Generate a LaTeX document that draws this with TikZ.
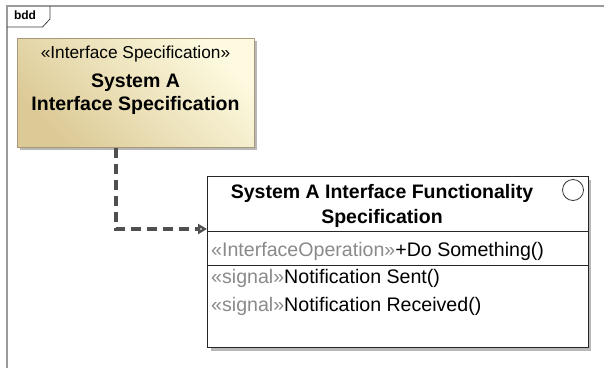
\documentclass[tikz,border=0pt]{standalone}
\usepackage{fontspec}
\setmainfont{Liberation Sans}
\usetikzlibrary{arrows.meta}
\definecolor{framegray}{HTML}{9A9A9A}
\definecolor{tandark}{HTML}{DCCA96}
\definecolor{tanlight}{HTML}{FDFAE0}
\definecolor{tanborder}{HTML}{A89A78}
\definecolor{stereogray}{HTML}{8A8A8A}
\definecolor{linkgray}{HTML}{505050}
\definecolor{shadowgray}{HTML}{B8B8B8}
\tikzset{
  boxtext/.style={inner sep=0pt, anchor=base},
  leftline/.style={inner sep=0pt, anchor=base west, font=\fontsize{19.6}{22}\selectfont},
  namefont/.style={font=\fontsize{19.5}{22}\selectfont\bfseries},
  dep/.style={linkgray, line width=3.2pt, dash pattern=on 10pt off 6pt,
    -{Triangle[open, length=9pt, width=10pt, line width=2.4pt]}},
}
\begin{document}
\begin{tikzpicture}[x=1pt,y=-1pt]
\useasboundingbox (0,0) rectangle (604,368);

% diagram frame with its bdd tab
\draw[framegray, line width=1.6pt] (6.8,368) -- (6.8,6.2) -- (604,6.2);
\draw[black!75, line width=0.8pt] (6.8,27) -- (42.5,27) -- (50,19) -- (50,6.2);
\node[boxtext, font=\fontsize{12}{14}\selectfont\bfseries] (tab) at (25,19) {bdd};

% interface specification block
\fill[shadowgray] (20,41) rectangle (257,150);
\node[draw=tanborder, line width=0.8pt, top color=tandark, bottom color=tanlight,
  shading angle=135, minimum width=237pt, minimum height=109pt, inner sep=0pt,
  anchor=north west] (spec) at (17,38) {};
\node[boxtext, font=\fontsize{17.3}{20}\selectfont] (specst) at (135.5,58) {«Interface Specification»};
\node[boxtext, namefont] (specn1) at (135.5,87) {System A};
\node[boxtext, namefont] (specn2) at (135.5,110) {Interface Specification};

% functionality specification block
\fill[shadowgray] (210.5,179.5) rectangle (591,350.5);
\node[draw=black!85, fill=white, line width=0.9pt, minimum width=380.5pt,
  minimum height=171pt, inner sep=0pt, anchor=north west] (func) at (207,176) {};
\draw[black!85, line width=0.9pt] (func.west |- 0,231) -- (func.east |- 0,231);
\draw[black!85, line width=0.9pt] (func.west |- 0,265) -- (func.east |- 0,265);
\draw[black!80, line width=0.8pt] (573,190) circle (10.5pt);
\node[boxtext, namefont] (funcn1) at (382,198) {System A Interface Functionality};
\node[boxtext, namefont] (funcn2) at (382,223) {Specification};
\node[leftline] (op) at (211,256) {\textcolor{stereogray}{«InterfaceOperation»}+Do Something()};
\node[leftline] (sig1) at (211,283) {\textcolor{stereogray}{«signal»}Notification Sent()};
\node[leftline] (sig2) at (211,311) {\textcolor{stereogray}{«signal»}Notification Received()};

% dependency connector
\coordinate (bendx) at (116,0);
\coordinate (bendy) at (0,229);
\draw[dep] (spec.south -| bendx) |- (func.west |- bendy);
\end{tikzpicture}
\end{document}
